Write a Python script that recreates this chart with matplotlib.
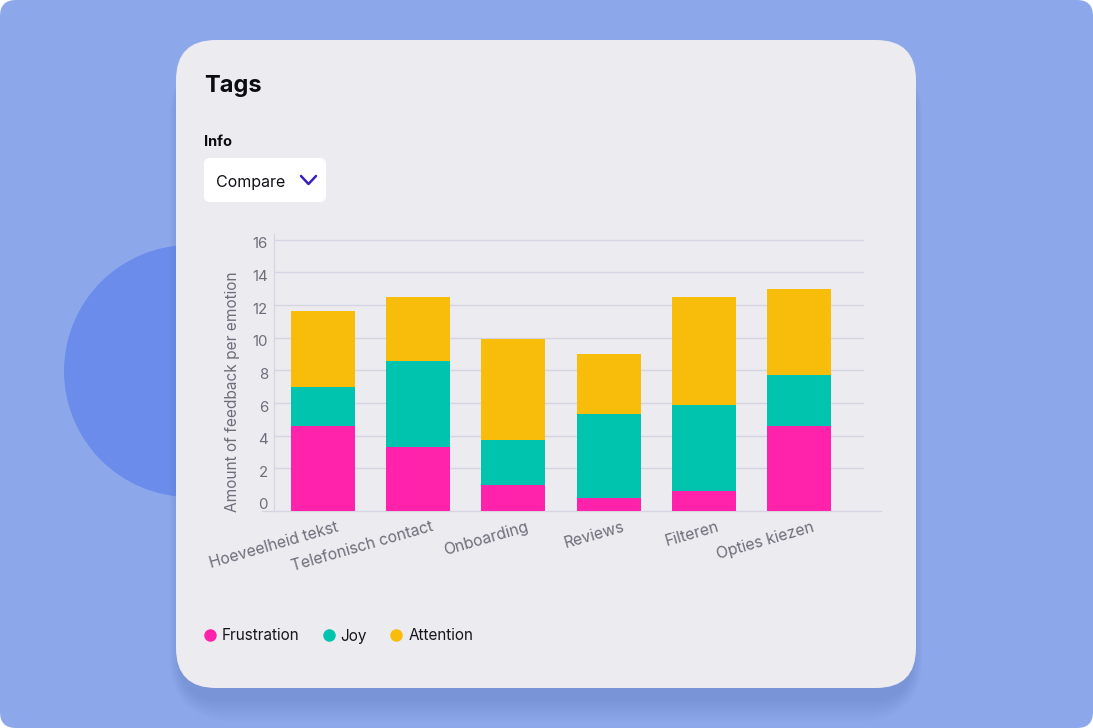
import matplotlib.pyplot as plt
from matplotlib.patches import FancyBboxPatch, Circle
from matplotlib.lines import Line2D
from matplotlib.transforms import ScaledTranslation
import numpy as np

plt.rcParams['font.family'] = ['Inter', 'DejaVu Sans']

# data (segment sizes, stacked bottom -> top)
categories = ['Hoeveelheid tekst', 'Telefonisch contact', 'Onboarding',
              'Reviews', 'Filteren', 'Opties kiezen']
frustration = [4.6, 3.3, 1.0, 0.2, 0.6, 4.6]
joy = [2.4, 5.3, 2.75, 5.15, 5.3, 3.1]
attention = [4.65, 3.9, 6.2, 3.65, 6.6, 5.3]
y_ticks = [0, 2, 4, 6, 8, 10, 12, 14, 16]
series_names = ['Frustration', 'Joy', 'Attention']
series_colors = ['#FF22AA', '#00C4AE', '#F8BC0A']

W, H = 1093, 728
fig = plt.figure(figsize=(W / 100, H / 100), dpi=100)
fig.patch.set_facecolor('white')

# background layer in pixel units
bg = fig.add_axes([0, 0, 1, 1])
bg.set_xlim(0, W)
bg.set_ylim(H, 0)
bg.axis('off')

bg.add_patch(FancyBboxPatch((0, 0), W, H, boxstyle='round,pad=0,rounding_size=16',
                            facecolor='#8DA8EA', edgecolor='none'))
bg.add_patch(Circle((190, 371), 126, facecolor='#6C8CEB', edgecolor='none'))

# soft card shadow, mostly below the card
for i in range(10):
    s = i * 3.0
    bg.add_patch(FancyBboxPatch((180 - s * 0.4, 60 - s * 0.2), 732 + s * 0.8, 640 + s,
                                boxstyle='round,pad=0,rounding_size=%d' % (40 + s),
                                facecolor='#3A4C9A', edgecolor='none', alpha=0.016))
bg.add_patch(FancyBboxPatch((176, 40), 740, 648, boxstyle='round,pad=0,rounding_size=40',
                            facecolor='#ECEBF0', edgecolor='none'))

bg.text(204, 92, 'Tags', fontsize=17, fontweight='bold', color='#0B0B12', va='baseline')
bg.text(204, 146, 'Info', fontsize=10.5, fontweight='bold', color='#0B0B12', va='baseline')
bg.add_patch(FancyBboxPatch((204, 158), 122, 44, boxstyle='round,pad=0,rounding_size=6',
                            facecolor='white', edgecolor='none'))
bg.text(216, 186.5, 'Compare', fontsize=11.5, color='#111118', va='baseline')
bg.plot([301, 308.5, 316], [176, 184, 176], color='#3A1FBF', lw=1.8,
        solid_capstyle='round', solid_joinstyle='round')

# chart
ax = fig.add_axes([274 / W, (H - 511) / H, 590 / W, 277 / H])
ax.patch.set_alpha(0)
x = np.arange(len(categories))
floor = -0.62
bw = 0.672

f = np.array(frustration)
j = np.array(joy)
a = np.array(attention)
ax.bar(x, f - floor, bw, bottom=floor, color=series_colors[0], zorder=3)
ax.bar(x, j, bw, bottom=f, color=series_colors[1], zorder=3)
ax.bar(x, a, bw, bottom=f + j, color=series_colors[2], zorder=3)

ax.set_xlim(-0.515, 5.683)
ax.set_ylim(floor, 16.36)
ax.set_yticks(y_ticks)
ax.yaxis.grid(True, color='#D5D4E0', lw=1)
ax.get_ygridlines()[0].set_visible(False)
ax.set_axisbelow(True)
for side in ['top', 'right', 'bottom']:
    ax.spines[side].set_visible(False)
ax.spines['left'].set_color('#D5D4E0')
ax.plot([-0.02, 1.029], [0, 0], transform=ax.transAxes, color='#D5D4E0', lw=1, clip_on=False)

ax.tick_params(axis='y', length=0, pad=4.3, labelsize=10.8, labelcolor='#6E6D7A')
ax.tick_params(axis='x', length=0, pad=6, labelsize=11.3, labelcolor='#6E6D7A')
ax.set_xticks(x)
ax.set_xticklabels(categories, rotation=16, ha='right', rotation_mode='anchor', va='top')

ax.set_ylabel('Amount of feedback per emotion', fontsize=11.1, color='#6E6D7A')
ax.yaxis.set_label_coords(-0.058, 0.431)

for lbl in ax.get_yticklabels():
    lbl.set_transform(lbl.get_transform() + ScaledTranslation(0, -0.03, fig.dpi_scale_trans))
for lbl in ax.get_xticklabels():
    lbl.set_transform(lbl.get_transform() + ScaledTranslation(0.13, 0, fig.dpi_scale_trans))

handles = [Line2D([], [], marker='o', linestyle='none', markersize=9,
                  markerfacecolor=c, markeredgecolor='none') for c in series_colors]
fig.legend(handles, series_names, loc='center left', bbox_to_anchor=(202 / W, (H - 636) / H),
           ncol=3, frameon=False, fontsize=11, handlelength=1.0, handletextpad=0.3,
           columnspacing=1.4, borderpad=0, borderaxespad=0, labelcolor='#16161C')

fig.savefig('out.png', dpi=100)
